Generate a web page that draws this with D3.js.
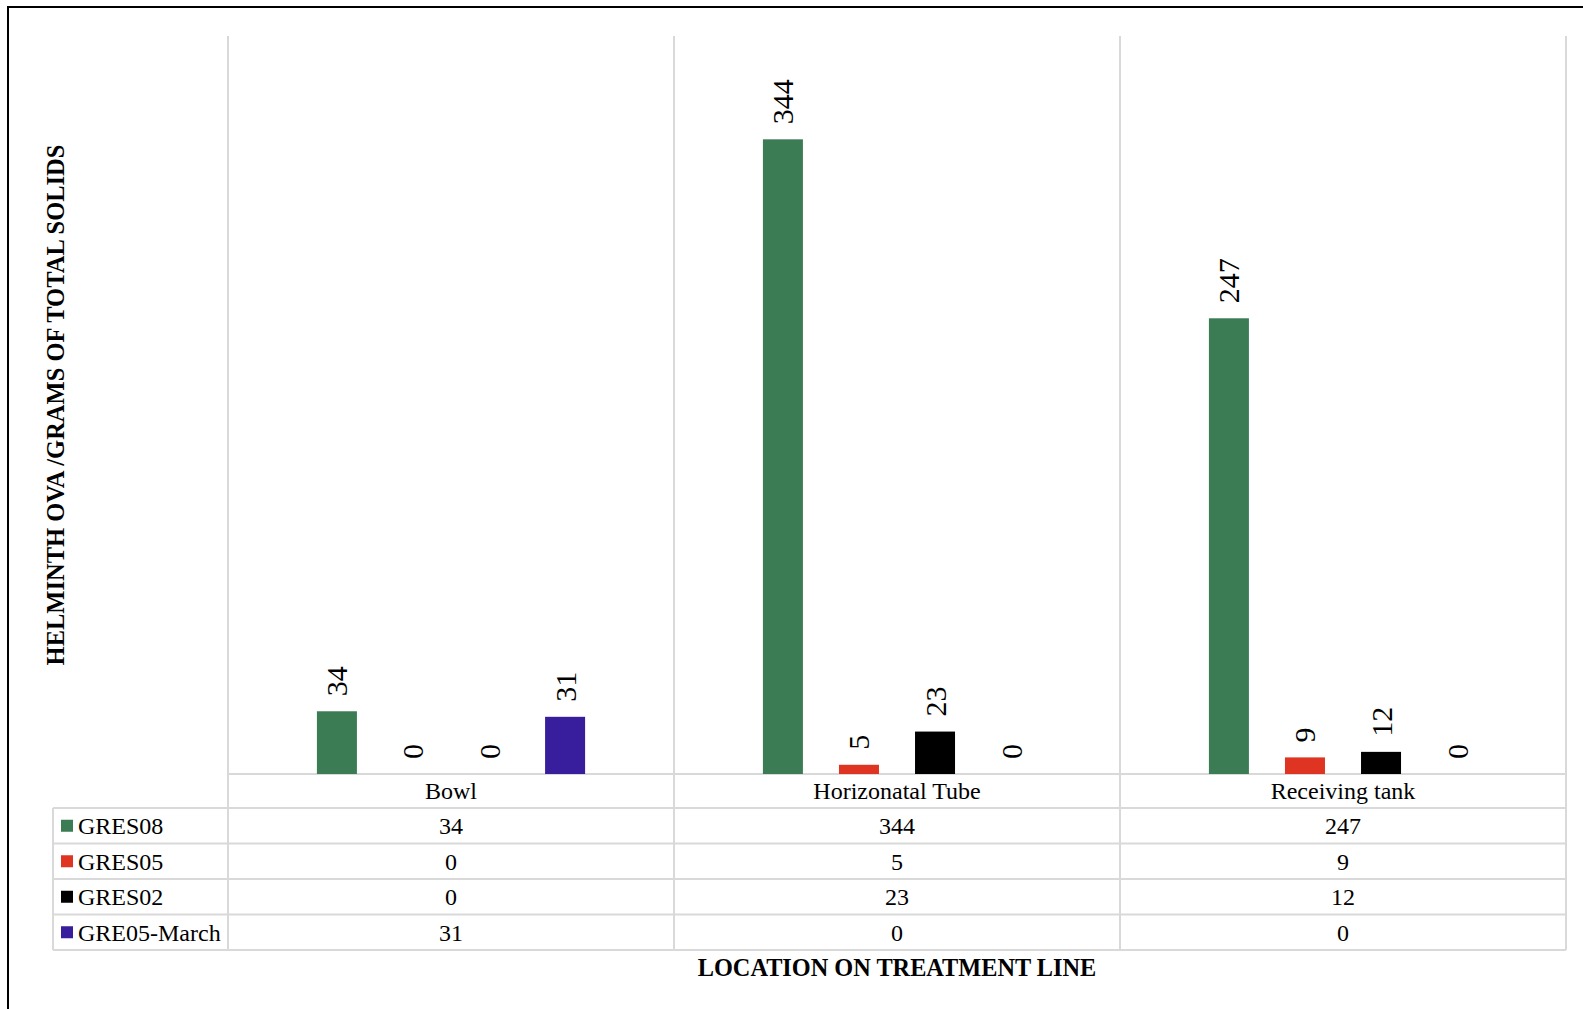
<!DOCTYPE html>
<html>
<head>
<meta charset="utf-8">
<script src="https://cdn.jsdelivr.net/npm/d3@7"></script>
<style>
  html, body { margin: 0; padding: 0; background: #fff; }
  svg { display: block; }
  text { font-family: "Liberation Serif", "Times New Roman", serif; fill: #000; }
</style>
</head>
<body>
<svg id="chart" width="1583" height="1009"></svg>
<script>
// Locations along the treatment line
const categories = ["Bowl", "Horizonatal Tube", "Receiving tank"];

// Sample series (helminth ova per gram of total solids)
const seriesNames = ["GRES08", "GRES05", "GRES02", "GRE05-March"];
const gres08 = [34, 344, 247];
const gres05 = [0, 5, 9];
const gres02 = [0, 23, 12];
const gre05March = [31, 0, 0];

const seriesColors = ["#3c7c55", "#e03422", "#000000", "#381d9c"];

const yDomain = [0, 400];

const seriesValues = [gres08, gres05, gres02, gre05March];
const series = seriesNames.map((name, i) => ({
  name, color: seriesColors[i], values: seriesValues[i]
}));

const svg = d3.select("#chart");

// Layout
const plot = { left: 228, right: 1566, top: 36, bottom: 774 };
const table = { left: 53, headerBottom: 808, rowH: 35.5 };
const gridColor = "#d9d9d9";
const tableFont = "24px";

const x0 = d3.scaleBand().domain(categories).range([plot.left, plot.right]).padding(0);
const x1 = d3.scaleBand().domain(seriesNames)
  .range([0, x0.bandwidth()])
  .paddingInner(0.474)
  .paddingOuter(1.169);
const y = d3.scaleLinear().domain(yDomain).range([plot.bottom, plot.top]);

// Outer frame
svg.append("rect")
  .attr("x", 8).attr("y", 7)
  .attr("width", 1620).attr("height", 1040)
  .attr("fill", "none").attr("stroke", "#000").attr("stroke-width", 2);

const tableBottom = table.headerBottom + table.rowH * series.length;

// Category separators (vertical gridlines running through the data table)
const bounds = categories.map(c => x0(c)).concat([plot.right]);
svg.append("g").selectAll("line")
  .data(bounds)
  .join("line")
  .attr("x1", d => d).attr("x2", d => d)
  .attr("y1", plot.top).attr("y2", tableBottom)
  .attr("stroke", gridColor).attr("stroke-width", 2);

// Table horizontal rules
const hRules = [{ y: plot.bottom, x1: plot.left }];
for (let i = 0; i <= series.length; i++) {
  hRules.push({ y: table.headerBottom + table.rowH * i, x1: table.left });
}
svg.append("g").selectAll("line")
  .data(hRules)
  .join("line")
  .attr("x1", d => d.x1).attr("x2", plot.right)
  .attr("y1", d => d.y).attr("y2", d => d.y)
  .attr("stroke", gridColor).attr("stroke-width", 2);

// Left edge of the legend column
svg.append("line")
  .attr("x1", table.left).attr("x2", table.left)
  .attr("y1", table.headerBottom).attr("y2", tableBottom)
  .attr("stroke", gridColor).attr("stroke-width", 2);

// Bars
const groups = svg.append("g").selectAll("g")
  .data(categories)
  .join("g")
  .attr("transform", c => `translate(${x0(c)},0)`);

groups.selectAll("rect")
  .data((c, ci) => series.map(s => ({ s, v: s.values[ci] })))
  .join("rect")
  .attr("x", d => x1(d.s.name))
  .attr("width", x1.bandwidth())
  .attr("y", d => y(d.v))
  .attr("height", d => y(0) - y(d.v))
  .attr("fill", d => d.s.color);

// Rotated value labels above each bar
groups.selectAll("text")
  .data((c, ci) => series.map(s => ({ s, v: s.values[ci] })))
  .join("text")
  .attr("transform", d =>
    `translate(${x1(d.s.name) + x1.bandwidth() / 2},${y(d.v) - 15}) rotate(-90)`)
  .attr("dy", "0.35em")
  .attr("text-anchor", "start")
  .style("font-size", "30px")
  .text(d => d.v);

// Category header row
svg.append("g").selectAll("text")
  .data(categories)
  .join("text")
  .attr("x", c => x0(c) + x0.bandwidth() / 2)
  .attr("y", (plot.bottom + table.headerBottom) / 2)
  .attr("dy", "0.35em")
  .attr("text-anchor", "middle")
  .style("font-size", tableFont)
  .text(c => c);

// Data table rows with legend keys
const rows = svg.append("g").selectAll("g")
  .data(series)
  .join("g")
  .attr("transform", (s, i) => `translate(0,${table.headerBottom + table.rowH * i + table.rowH / 2})`);

rows.append("rect")
  .attr("x", 61).attr("y", -6)
  .attr("width", 12).attr("height", 12)
  .attr("fill", s => s.color);

rows.append("text")
  .attr("x", 78)
  .attr("dy", "0.35em")
  .style("font-size", tableFont)
  .text(s => s.name);

rows.selectAll("text.val")
  .data(s => s.values.map((v, ci) => ({ v, c: categories[ci] })))
  .join("text")
  .attr("class", "val")
  .attr("x", d => x0(d.c) + x0.bandwidth() / 2)
  .attr("dy", "0.35em")
  .attr("text-anchor", "middle")
  .style("font-size", tableFont)
  .text(d => d.v);

// Axis titles
svg.append("text")
  .attr("x", (plot.left + plot.right) / 2)
  .attr("y", 976)
  .attr("text-anchor", "middle")
  .style("font-size", "24.3px")
  .style("font-weight", "bold")
  .text("LOCATION ON TREATMENT LINE");

svg.append("text")
  .attr("transform", `translate(64,${(plot.top + plot.bottom) / 2}) rotate(-90)`)
  .attr("text-anchor", "middle")
  .style("font-size", "24.5px")
  .style("font-weight", "bold")
  .text("HELMINTH OVA /GRAMS OF TOTAL SOLIDS");
</script>
</body>
</html>
